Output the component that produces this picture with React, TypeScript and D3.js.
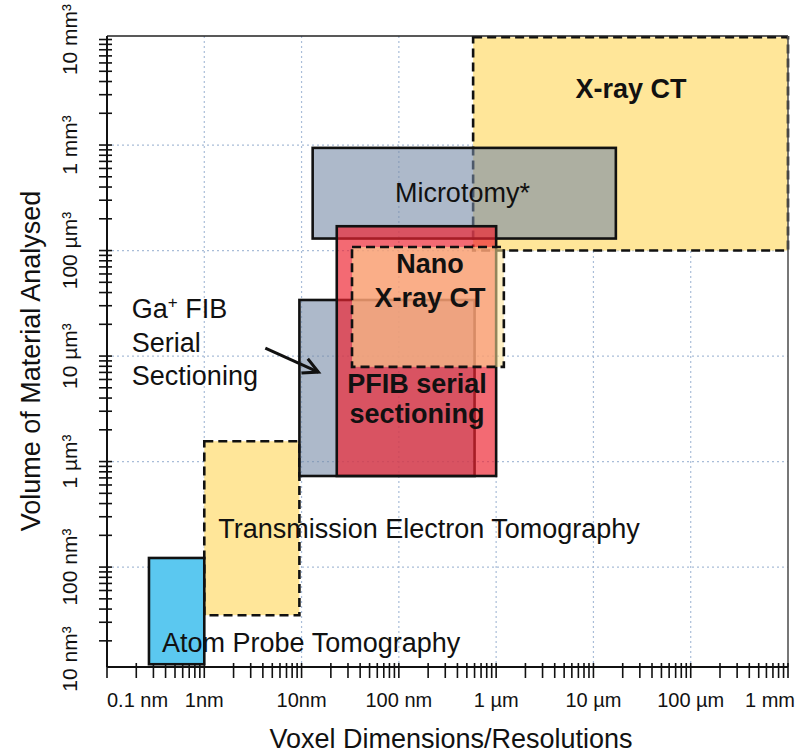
import * as d3 from "d3";

// x: voxel size in nm. y: position on the volume axis, one decade per label (10^1 = first label)
const xTickValues = [0.1, 1, 10, 100, 1e3, 1e4, 1e5, 1e6];
const xTickLabels = ["0.1 nm", "1nm", "10nm", "100 nm", "1 µm", "10 µm", "100 µm", "1 mm"];
const yTickValues = [1e1, 1e2, 1e3, 1e4, 1e5, 1e6, 1e7];
const yTickLabels = ["10 nm³", "100 nm³", "1 µm³", "10 µm³", "100 µm³", "1 mm³", "10 mm³"];

// technique boxes, drawn back to front
const techniques = [
  "X-ray CT",
  "Microtomy*",
  "Transmission Electron Tomography",
  "Atom Probe Tomography",
  "Ga+ FIB Serial Sectioning",
  "PFIB serial sectioning",
  "Nano X-ray CT",
];
const resMin = [580, 13, 1, 0.27, 9.5, 23, 33];
const resMax = [1e6, 17000, 9.5, 1, 600, 1000, 1200];
const volMin = [1e5, 1.3e5, 35, 12, 730, 730, 7900];
const volMax = [1.05e7, 9.4e5, 1560, 122, 34000, 1.7e5, 1.08e5];

const boxStyle: Record<string, { fill: string; opacity: number; dashed: boolean }> = {
  "X-ray CT": { fill: "#FFE699", opacity: 1, dashed: true },
  "Microtomy*": { fill: "#768AA7", opacity: 0.6, dashed: false },
  "Transmission Electron Tomography": { fill: "#FFE699", opacity: 1, dashed: true },
  "Atom Probe Tomography": { fill: "#5BC8F0", opacity: 1, dashed: false },
  "Ga+ FIB Serial Sectioning": { fill: "#768AA7", opacity: 0.6, dashed: false },
  "PFIB serial sectioning": { fill: "#EE2430", opacity: 0.68, dashed: false },
  "Nano X-ray CT": { fill: "#FFE699", opacity: 0.55, dashed: true },
};

// text annotations anchored in data units
const annotations = [
  { lines: ["X-ray CT"], x: 24300, y: 2.8e6, bold: true, anchor: "middle", lh: 33 },
  { lines: ["Microtomy*"], x: 450, y: 2.9e5, bold: false, anchor: "middle", lh: 33 },
  { lines: ["Nano", "X-ray CT"], x: 209, y: 61000, bold: true, anchor: "middle", lh: 34 },
  { lines: ["PFIB serial", "sectioning"], x: 154, y: 4460, bold: true, anchor: "middle", lh: 30 },
  { lines: ["Ga+ FIB", "Serial", "Sectioning"], x: 0.18, y: 22900, bold: false, anchor: "start", lh: 33.5 },
  { lines: ["Transmission Electron Tomography"], x: 1.39, y: 188, bold: false, anchor: "start", lh: 33 },
  { lines: ["Atom Probe Tomography"], x: 0.368, y: 15.6, bold: false, anchor: "start", lh: 33 },
];
const arrowFrom = [4.24, 11900];
const arrowTo = [14.9, 7050];

const FONT = "Liberation Sans, Arial, sans-serif";

function renderLine(line: string) {
  if (!line.includes("+")) return line;
  const [a, b] = line.split("+");
  return [
    <tspan key="a">{a}</tspan>,
    <tspan key="p" dy={-10} fontSize={17}>+</tspan>,
    <tspan key="b" dy={10}>{b}</tspan>,
  ];
}

export default function App() {
  const width = 799;
  const height = 753;
  const plot = { left: 107, right: 788, top: 36, bottom: 667 };

  const x = d3.scaleLog().domain([0.1, 1e6]).range([plot.left, plot.right]);
  const y = d3.scaleLog().domain([11.3, 1.08e7]).range([plot.bottom, plot.top]);

  const xTicks = x.ticks();
  const yTicks = y.ticks();

  const gridX = xTickValues.filter((v) => x(v) > plot.left + 5 && x(v) < plot.right - 5);
  const gridY = yTickValues.filter((v) => y(v) > plot.top + 10 && y(v) < plot.bottom - 10);

  // arrow
  const ax0 = x(arrowFrom[0]);
  const ay0 = y(arrowFrom[1]);
  const ax1 = x(arrowTo[0]);
  const ay1 = y(arrowTo[1]);
  const ang = Math.atan2(ay1 - ay0, ax1 - ax0);
  const headLen = 17;
  const spread = (27 * Math.PI) / 180;
  const head = d3.path();
  head.moveTo(ax1 - headLen * Math.cos(ang - spread), ay1 - headLen * Math.sin(ang - spread));
  head.lineTo(ax1, ay1);
  head.lineTo(ax1 - headLen * Math.cos(ang + spread), ay1 - headLen * Math.sin(ang + spread));

  return (
    <svg
      width={width}
      height={height}
      style={{ position: "absolute", left: 0, top: 0, background: "#fff" }}
      fontFamily={FONT}
    >
      <rect width={width} height={height} fill="#fff" />

      {/* grid */}
      <g stroke="#A9BDD8" strokeWidth={1.2} strokeDasharray="2 3">
        {gridX.map((v) => (
          <line key={"gx" + v} x1={x(v)} x2={x(v)} y1={plot.top} y2={plot.bottom} />
        ))}
        {gridY.map((v) => (
          <line key={"gy" + v} x1={plot.left} x2={plot.right} y1={y(v)} y2={y(v)} />
        ))}
      </g>

      {/* technique boxes */}
      {techniques.map((name, i) => {
        const s = boxStyle[name];
        const x0 = x(resMin[i]);
        const x1 = x(resMax[i]);
        const y0 = y(volMax[i]);
        const y1 = y(volMin[i]);
        return (
          <rect
            key={name}
            x={x0}
            y={y0}
            width={x1 - x0}
            height={y1 - y0}
            fill={s.fill}
            fillOpacity={s.opacity}
            stroke="#111"
            strokeWidth={2.6}
            strokeDasharray={s.dashed ? "9 5" : undefined}
          />
        );
      })}

      {/* frame */}
      <line x1={plot.left} x2={plot.right} y1={plot.top} y2={plot.top} stroke="#222" strokeWidth={1.6} />
      <line x1={plot.right} x2={plot.right} y1={plot.top} y2={plot.bottom} stroke="#555" strokeWidth={1.6} />
      <line x1={plot.left} x2={plot.left} y1={plot.top} y2={plot.bottom} stroke="#111" strokeWidth={2} />
      <line x1={plot.left} x2={plot.right} y1={plot.bottom} y2={plot.bottom} stroke="#111" strokeWidth={2} />

      {/* ticks */}
      <g stroke="#111" strokeWidth={1.6}>
        {xTicks.map((v, i) => (
          <line key={"xt" + i} x1={x(v)} x2={x(v)} y1={plot.bottom - 4} y2={plot.bottom + 11} />
        ))}
        {yTicks.map((v, i) => (
          <line key={"yt" + i} x1={plot.left - 8} x2={plot.left + 5} y1={y(v)} y2={y(v)} />
        ))}
      </g>

      {/* tick labels */}
      <g fontSize={20} fill="#111">
        {xTickValues.map((v, i) => (
          <text
            key={"xl" + v}
            x={i === xTickValues.length - 1 ? x(v) + 7 : x(v)}
            y={707}
            textAnchor={i === 0 ? "start" : i === xTickValues.length - 1 ? "end" : "middle"}
          >
            {xTickLabels[i]}
          </text>
        ))}
      </g>
      <g fontSize={21} fill="#111">
        {yTickValues.map((v, i) => (
          <text
            key={"yl" + v}
            transform={`translate(77,${Math.min(y(v), plot.bottom - 8)}) rotate(-90)`}
            textAnchor="middle"
          >
            {yTickLabels[i]}
          </text>
        ))}
      </g>

      {/* axis titles */}
      <text x={451} y={748} fontSize={27} textAnchor="middle" fill="#111">
        Voxel Dimensions/Resolutions
      </text>
      <text transform="translate(40,361) rotate(-90)" fontSize={27} textAnchor="middle" fill="#111">
        Volume of Material Analysed
      </text>

      {/* annotations */}
      {annotations.map((a, i) => (
        <text
          key={"an" + i}
          x={x(a.x)}
          y={y(a.y)}
          fontSize={27}
          fontWeight={a.bold ? "bold" : "normal"}
          textAnchor={a.anchor}
          fill="#111"
        >
          {a.lines.map((line, j) => (
            <tspan key={j} x={x(a.x)} y={y(a.y) + j * a.lh}>
              {renderLine(line)}
            </tspan>
          ))}
        </text>
      ))}

      {/* arrow */}
      <line x1={ax0} y1={ay0} x2={ax1} y2={ay1} stroke="#111" strokeWidth={3} />
      <path d={head.toString()} fill="none" stroke="#111" strokeWidth={3} strokeLinejoin="miter" />
    </svg>
  );
}
